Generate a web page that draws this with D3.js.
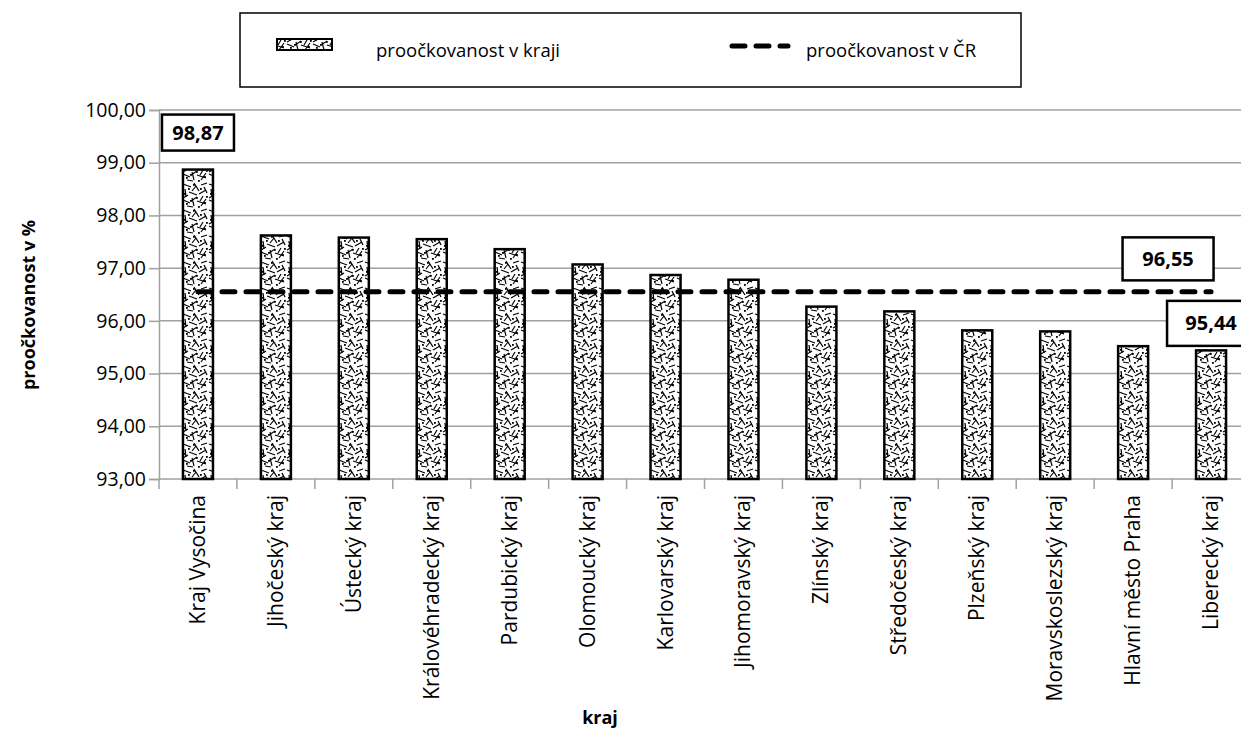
<!DOCTYPE html>
<html>
<head>
<meta charset="utf-8">
<script src="https://cdn.jsdelivr.net/npm/d3@7"></script>
<style>
  body { margin: 0; background: #fff; }
  svg { display: block; font-family: "Open Sans", "Noto Sans", sans-serif; }
</style>
</head>
<body>
<svg id="chart" width="1241" height="731"></svg>
<script>
// data
var regions = ["Kraj Vysočina", "Jihočeský kraj", "Ústecký kraj", "Královéhradecký kraj", "Pardubický kraj",
  "Olomoucký kraj", "Karlovarský kraj", "Jihomoravský kraj", "Zlínský kraj", "Středočeský kraj",
  "Plzeňský kraj", "Moravskoslezský kraj", "Hlavní město Praha", "Liberecký kraj"];
var regionValues = [98.87, 97.62, 97.58, 97.55, 97.36, 97.07, 96.87, 96.78, 96.27, 96.18, 95.82, 95.80, 95.52, 95.44];
var nationalValue = 96.55;
var yTicks = [93, 94, 95, 96, 97, 98, 99, 100];
var seriesNames = ["proočkovanost v kraji", "proočkovanost v ČR"];

var svg = d3.select("#chart");
var plotLeft = 159, plotTop = 110, plotBottom = 479, step = 77.93;
var fmt = function (d) { return d.toFixed(2).replace(".", ","); };

var x = d3.scaleBand().domain(regions).range([plotLeft, plotLeft + step * regions.length])
  .paddingInner(0.615).paddingOuter(0.3075);
var y = d3.scaleLinear().domain([93, 100]).range([plotBottom, plotTop]);

// pattern for bars (short strokes and dots)
var defs = svg.append("defs");
var pat = defs.append("pattern").attr("id", "hatch").attr("patternUnits", "userSpaceOnUse")
  .attr("width", 26).attr("height", 26);
pat.append("rect").attr("width", 26).attr("height", 26).attr("fill", "#fff");
var segs = [[1,2,9,5],[12,1,17,9],[19,3,25,1],[3,7,4,15],[7,10,15,13],[17,12,24,8],
  [1,18,8,21],[10,16,12,24],[15,19,24,22],[21,14,18,19],[5,24,11,25],[14,4,10,9],
  [6,13,1,16],[19,24,24,17],[9,19,15,15],[22,5,25,11]];
segs.forEach(function (s) {
  pat.append("line").attr("x1", s[0]).attr("y1", s[1]).attr("x2", s[2]).attr("y2", s[3])
    .attr("stroke", "#000").attr("stroke-width", 1.2);
});
[[6,6],[18,6],[2,11],[14,15],[22,20],[8,18],[11,2],[4,21],[16,24],[24,14]].forEach(function (p) {
  pat.append("rect").attr("x", p[0]).attr("y", p[1]).attr("width", 1.8).attr("height", 1.8).attr("fill", "#000");
});

// gridlines
svg.append("g").selectAll("line").data(yTicks).join("line")
  .attr("x1", plotLeft).attr("x2", 1241)
  .attr("y1", function (d) { return y(d); }).attr("y2", function (d) { return y(d); })
  .attr("stroke", "#a0a0a0").attr("stroke-width", 1.5);

// y axis
var yAxis = svg.append("g").attr("transform", "translate(" + plotLeft + ",0)")
  .call(d3.axisLeft(y).tickValues(yTicks).tickFormat(fmt).tickSize(10).tickPadding(3));
yAxis.select(".domain").attr("stroke", "#a0a0a0").attr("stroke-width", 1.5);
yAxis.selectAll(".tick line").attr("stroke", "#a0a0a0").attr("stroke-width", 1.5);
yAxis.selectAll("text").attr("font-size", 19.5).attr("fill", "#000").attr("font-family", "Open Sans");

// x axis ticks at band edges
var edges = d3.range(regions.length + 1).map(function (i) { return plotLeft + i * x.step(); });
svg.append("g").selectAll("line").data(edges).join("line")
  .attr("x1", function (d) { return d; }).attr("x2", function (d) { return d; })
  .attr("y1", plotBottom).attr("y2", plotBottom + 10)
  .attr("stroke", "#a0a0a0").attr("stroke-width", 1.5);

// x labels
svg.append("g").selectAll("text").data(regions).join("text")
  .attr("transform", function (d) { return "translate(" + (x(d) + x.bandwidth() / 2 + 7) + "," + (plotBottom + 16) + ") rotate(-90)"; })
  .attr("text-anchor", "end").attr("font-size", 21).text(function (d) { return d; });

// bars
svg.append("g").selectAll("rect").data(regions).join("rect")
  .attr("x", function (d) { return x(d); })
  .attr("y", function (d, i) { return y(regionValues[i]); })
  .attr("width", x.bandwidth())
  .attr("height", function (d, i) { return plotBottom - y(regionValues[i]); })
  .attr("fill", "url(#hatch)").attr("stroke", "#000").attr("stroke-width", 2.5);

// national line
var first = regions[0], last = regions[regions.length - 1];
svg.append("line")
  .attr("x1", x(first) + x.bandwidth() / 2).attr("x2", x(last) + x.bandwidth() / 2)
  .attr("y1", y(nationalValue)).attr("y2", y(nationalValue))
  .attr("stroke", "#000").attr("stroke-width", 5).attr("stroke-linecap", "round")
  .attr("stroke-dasharray", "13 11");

// data label boxes
function labelBox(cx, cy, w, h, val) {
  svg.append("rect").attr("x", cx - w / 2).attr("y", cy - h / 2).attr("width", w).attr("height", h)
    .attr("fill", "#fff").attr("stroke", "#000").attr("stroke-width", 2.5);
  svg.append("text").attr("x", cx).attr("y", cy + 7).attr("text-anchor", "middle")
    .attr("font-size", 20).attr("font-weight", "bold").text(fmt(val));
}
labelBox(x(first) + x.bandwidth() / 2, y(regionValues[0]) - 37, 72, 36, regionValues[0]);
labelBox(x(last) + x.bandwidth() / 2 - 43, y(nationalValue) - 33, 91, 43, nationalValue);
labelBox(x(last) + x.bandwidth() / 2, y(regionValues[13]) - 27, 88, 45, regionValues[13]);

// axis titles
svg.append("text").attr("transform", "translate(35,305) rotate(-90)").attr("text-anchor", "middle")
  .attr("font-size", 18).attr("font-weight", "bold").text("proočkovanost v %");
svg.append("text").attr("x", 600).attr("y", 724).attr("text-anchor", "middle")
  .attr("font-size", 18).attr("font-weight", "bold").text("kraj");

// legend
var lg = svg.append("g");
lg.append("rect").attr("x", 240).attr("y", 13).attr("width", 781).attr("height", 74)
  .attr("fill", "#fff").attr("stroke", "#000").attr("stroke-width", 1.5);
lg.append("rect").attr("x", 277).attr("y", 39).attr("width", 55).attr("height", 11)
  .attr("fill", "url(#hatch)").attr("stroke", "#000").attr("stroke-width", 2);
lg.append("text").attr("x", 376).attr("y", 57).attr("font-size", 18.5).text(seriesNames[0]);
lg.append("line").attr("x1", 732).attr("x2", 788).attr("y1", 46).attr("y2", 46)
  .attr("stroke", "#000").attr("stroke-width", 5).attr("stroke-linecap", "round")
  .attr("stroke-dasharray", "13 11");
lg.append("text").attr("x", 806).attr("y", 57).attr("font-size", 18.5).text(seriesNames[1]);
</script>
</body>
</html>
